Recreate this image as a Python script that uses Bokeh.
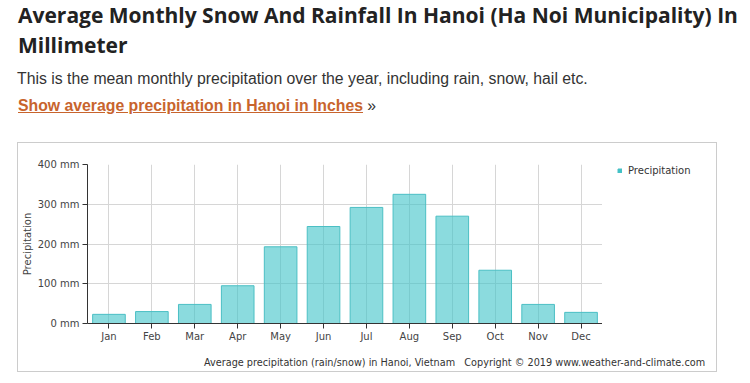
from bokeh.plotting import figure
from bokeh.models import (Range1d, FactorRange, PrintfTickFormatter, FixedTicker,
                          Legend, LegendItem, Div)
from bokeh.layouts import column, row
from bokeh.embed import file_html
from bokeh.resources import INLINE

months = ["Jan", "Feb", "Mar", "Apr", "May", "Jun", "Jul", "Aug", "Sep", "Oct", "Nov", "Dec"]
precip_mm = [23, 30, 48, 95, 193, 244, 292, 325, 270, 134, 48, 28]
y_ticks = [0, 100, 200, 300, 400]

title_line1 = "Average Monthly Snow And Rainfall In Hanoi (Ha Noi Municipality) In"
title_line2 = "Millimeter"
intro_text = "This is the mean monthly precipitation over the year, including rain, snow, hail etc."
link_text = "Show average precipitation in Hanoi in Inches"
series_name = "Precipitation"
footer_left = "Average precipitation (rain/snow) in Hanoi, Vietnam"
footer_right = "Copyright \u00a9 2019 www.weather-and-climate.com"

CHART_FONT = "DejaVu Sans"
BAR_FILL = "#3ec3c8"
BAR_LINE = "#4bbfc4"

header_html = f"""
<div style="position:relative;width:750px;height:143px;margin:0;padding:0;">
  <div style="position:absolute;left:18px;top:0px;white-space:nowrap;font-family:'Open Sans';
              font-weight:bold;font-size:21px;line-height:30px;color:#222222;">
    {title_line1}<br>{title_line2}
  </div>
  <div style="position:absolute;left:17px;top:71px;white-space:nowrap;font-family:'Liberation Sans';
              font-size:15.8px;line-height:15.8px;color:#333333;">{intro_text}</div>
  <div style="position:absolute;left:18px;top:98px;white-space:nowrap;font-family:'Liberation Sans';
              font-size:15.8px;line-height:15.8px;color:#333333;">
    <span style="font-weight:bold;color:#c8642d;text-decoration:underline;">{link_text}</span>&nbsp;&raquo;
  </div>
</div>
"""
header = Div(text=header_html, width=750, height=143, margin=0)

# main chart
p = figure(
    x_range=FactorRange(*months, range_padding=0),
    y_range=Range1d(0, 400),
    width=584, height=208,
    min_border_left=68, min_border_right=0,
    min_border_top=21, min_border_bottom=28,
    output_backend="svg", toolbar_location=None,
    background_fill_color="white", border_fill_color="white",
    margin=0,
)
p.outline_line_color = None

bars = p.vbar(x=months, top=precip_mm, width=0.76,
              fill_color=BAR_FILL, fill_alpha=0.6,
              line_color=BAR_LINE, line_width=1)

p.xgrid.grid_line_color = "#d6d6d6"
p.ygrid.grid_line_color = "#d6d6d6"

p.yaxis.ticker = FixedTicker(ticks=y_ticks)
p.yaxis.formatter = PrintfTickFormatter(format="%d mm")
for ax in (p.xaxis[0], p.yaxis[0]):
    ax.axis_line_color = "#333333"
    ax.major_tick_line_color = "#333333"
    ax.major_tick_out = 5
    ax.major_tick_in = 0
    ax.minor_tick_line_color = None
    ax.major_label_text_font = CHART_FONT
    ax.major_label_text_font_size = "10px"
    ax.major_label_text_color = "#444444"
p.xaxis.major_label_standoff = 2
p.yaxis.major_label_standoff = 3
p.yaxis.axis_label = series_name
p.yaxis.axis_label_text_font = CHART_FONT
p.yaxis.axis_label_text_font_size = "10px"
p.yaxis.axis_label_text_font_style = "normal"
p.yaxis.axis_label_text_color = "#444444"
p.yaxis.axis_label_standoff = 2

# legend area to the right of the chart; its frame starts where the legend goes
lp = figure(width=114, height=208, x_range=Range1d(0, 1), y_range=Range1d(0, 1),
            x_axis_type=None, y_axis_type=None,
            min_border_left=15, min_border_right=0, min_border_top=21, min_border_bottom=0,
            output_backend="svg", toolbar_location=None,
            background_fill_color="white", border_fill_color="white", margin=0)
lp.outline_line_color = None
lp.grid.visible = False
# swatch renderer for the legend only; its single bar lies outside the visible range
legend_swatch = lp.vbar(x=[5], top=[1], width=0.5, fill_color=BAR_FILL, fill_alpha=1,
                        line_color=BAR_LINE)
legend = Legend(items=[LegendItem(label=series_name, renderers=[legend_swatch])],
                location="top_left", glyph_width=5, glyph_height=5,
                label_standoff=6, padding=0, margin=0, spacing=0,
                label_height=12, border_line_color=None, background_fill_alpha=0,
                label_text_font=CHART_FONT, label_text_font_size="10px",
                label_text_color="#333333")
lp.add_layout(legend, "center")

footer_html = f"""
<div style="position:relative;width:698px;height:20px;margin:0;padding:0;">
  <div style="position:absolute;left:186px;top:7px;white-space:nowrap;font-family:'{CHART_FONT}';
              font-size:9.7px;line-height:9.7px;color:#333333;">
    {footer_left}&nbsp;&nbsp;&nbsp;{footer_right}
  </div>
</div>
"""
footer = Div(text=footer_html, width=698, height=20, margin=0)

chart_box = column(row(p, lp, spacing=0), footer, spacing=0, margin=(0, 0, 0, 18),
                   styles={"outline": "1px solid #cccccc", "background": "white"})

layout = column(header, chart_box, spacing=0)
open("out.html", "w").write(file_html(layout, INLINE))
